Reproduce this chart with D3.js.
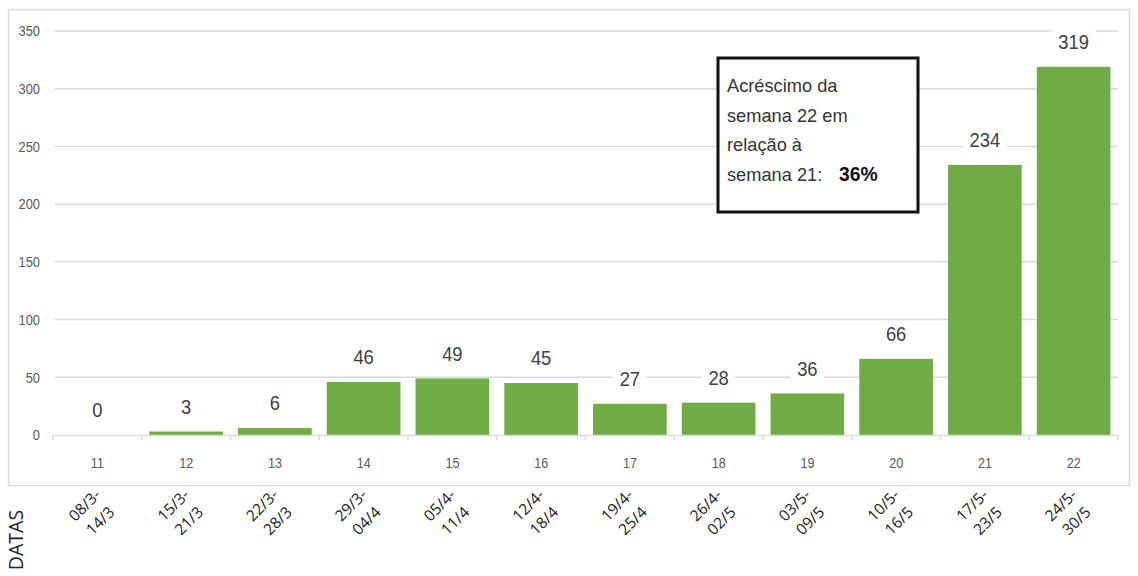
<!DOCTYPE html>
<html><head><meta charset="utf-8">
<script src="https://cdn.jsdelivr.net/npm/d3@7"></script>
<style>body{margin:0;background:#fff}svg{display:block}</style>
</head><body><svg id="c" width="1138" height="576"></svg>
<script>
const weeks = ["11","12","13","14","15","16","17","18","19","20","21","22"];
const values = [0,3,6,46,49,45,27,28,36,66,234,319];
const datesStart = ["08/3-","15/3-","22/3-","29/3-","05/4-","12/4-","19/4-","26/4-","03/5-","10/5-","17/5-","24/5-"];
const datesEnd = ["14/3","21/3","28/3","04/4","11/4","18/4","25/4","02/5","09/5","16/5","23/5","30/5"];
const yTicks = [0,50,100,150,200,250,300,350];
const annotationLines = ["Acréscimo da","semana 22 em","relação à","semana 21:"];
const annotationValue = "36%";

const svg = d3.select("#c");
const font = "'Liberation Sans',Arial,sans-serif";
const fontDates = "'Open Sans',sans-serif";

svg.append("rect").attr("x",8.5).attr("y",9.5).attr("width",1121).attr("height",476)
  .attr("fill","#fff").attr("stroke","#d9d9d9").attr("stroke-width",1.5);

const x = d3.scaleBand().domain(weeks).range([53,1118]).paddingInner(0.17).paddingOuter(0.085);
const y = d3.scaleLinear().domain([0,350]).range([435,31]);

// gridlines
svg.append("g").selectAll("line").data(yTicks.filter(d=>d>0)).join("line")
  .attr("x1",55).attr("x2",1118).attr("y1",d=>y(d)).attr("y2",d=>y(d))
  .attr("stroke","#d9d9d9").attr("stroke-width",1.5);

// y axis labels (slightly condensed)
const ya = svg.append("g").attr("transform","translate(40,0)")
  .call(d3.axisLeft(y).tickValues(yTicks).tickSize(0).tickPadding(0));
ya.select(".domain").remove();
ya.selectAll(".tick text").attr("x",0).attr("font-family",font).attr("font-size",15).attr("fill","#595959")
  .attr("transform","scale(0.86,1)");

// bars
svg.append("g").selectAll("rect").data(weeks).join("rect")
  .attr("x",d=>x(d)).attr("width",x.bandwidth())
  .attr("y",(d,i)=>y(values[i])).attr("height",(d,i)=>y(0)-y(values[i]))
  .attr("fill","#6fac46");

// x axis
const xa = svg.append("g").attr("transform",`translate(0,${y(0)})`)
  .call(d3.axisBottom(x).tickSize(0).tickPadding(0));
xa.select(".domain").attr("stroke","#d9d9d9").attr("stroke-width",1.5);
xa.selectAll(".tick text").attr("x",0).attr("y",28).attr("dy","0.35em").attr("font-family",font).attr("font-size",14)
  .attr("fill","#595959").attr("transform","scale(0.9,1)");
// boundary ticks
const step = x.step();
const bounds = d3.range(weeks.length+1).map(i=>x.range()[0]+i*step);
svg.append("g").selectAll("line").data(bounds).join("line")
  .attr("x1",d=>d).attr("x2",d=>d).attr("y1",y(0)).attr("y2",y(0)+5)
  .attr("stroke","#d9d9d9").attr("stroke-width",1.5);

// value labels
const lab = svg.append("g").selectAll("g").data(weeks).join("g")
  .attr("transform",(d,i)=>`translate(${x(d)+x.bandwidth()/2},${y(values[i])-25})`);
lab.append("rect").attr("x",(d,i)=>-(String(values[i]).length*10+14)/2).attr("y",-12)
  .attr("width",(d,i)=>String(values[i]).length*10+14).attr("height",24).attr("fill","#fff");
lab.append("text").attr("text-anchor","middle").attr("dy","0.36em")
  .attr("font-family",font).attr("font-size",20).attr("fill","#404040")
  .attr("transform","scale(0.92,1)")
  .text((d,i)=>values[i]);

// annotation
const ann = svg.append("g");
ann.append("rect").attr("x",718).attr("y",58).attr("width",200).attr("height",154)
  .attr("fill","#fff").attr("stroke","#111").attr("stroke-width",3);
ann.selectAll("text.l").data(annotationLines).join("text").attr("class","l")
  .attr("transform",(d,i)=>`translate(727,${92+i*29.5}) scale(0.96,1)`)
  .attr("font-family",font).attr("font-size",19).attr("fill","#333").text(d=>d);
ann.append("text").attr("transform","translate(839,180.5) scale(0.92,1)").attr("font-family",font)
  .attr("font-weight","bold").attr("font-size",21).attr("fill","#111").text(annotationValue);

// date labels
const dl = svg.append("g").selectAll("g").data(weeks).join("g")
  .attr("transform",d=>`translate(${x(d)+x.bandwidth()/2-5},${513}) rotate(-45)`);
dl.append("text").attr("x",0).attr("y",-11).attr("dy","0.35em").attr("text-anchor","middle")
  .attr("font-family",fontDates).attr("font-size",15.5).attr("fill","#222")
  .text((d,i)=>datesStart[i]);
dl.append("text").attr("x",0).attr("y",11).attr("dy","0.35em").attr("text-anchor","middle")
  .attr("font-family",fontDates).attr("font-size",15.5).attr("fill","#222")
  .text((d,i)=>datesEnd[i]);

svg.append("text").attr("transform","translate(16,540) rotate(-90)").attr("text-anchor","middle")
  .attr("dy","0.35em").attr("font-family",fontDates).attr("font-size",19.5).attr("fill","#222").text("DATAS");
</script></body></html>
